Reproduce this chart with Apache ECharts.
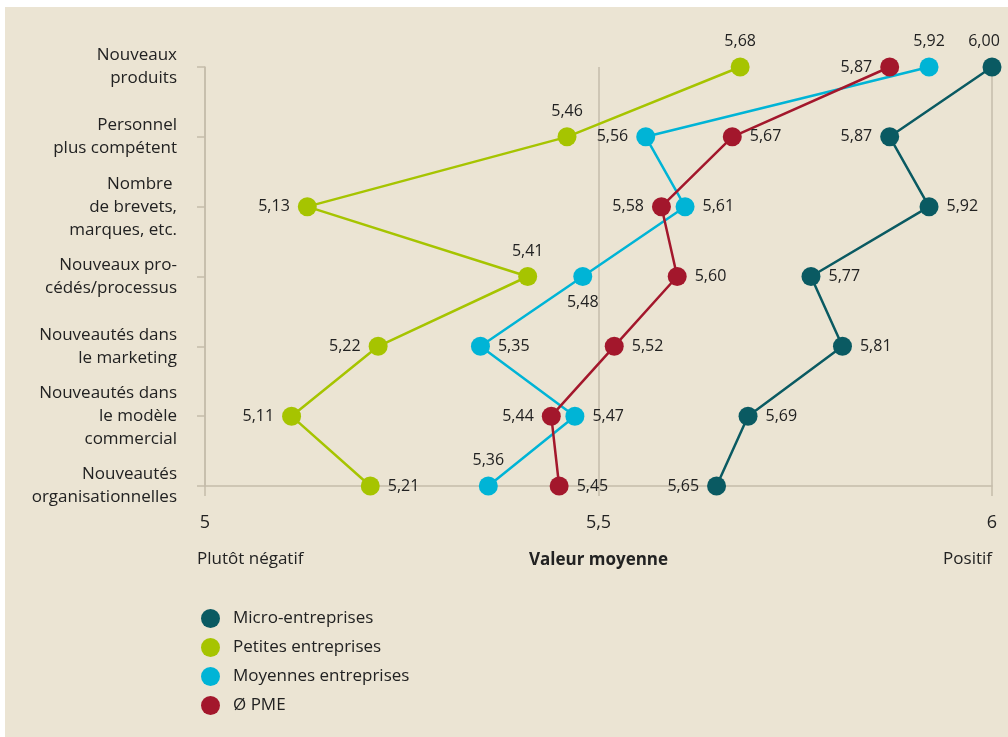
<!DOCTYPE html>
<html>
<head>
<meta charset="utf-8">
<script src="https://cdn.jsdelivr.net/npm/echarts@6/dist/echarts.min.js"></script>
<style>
  html, body { margin: 0; padding: 0; background: #ffffff; }
  #c { position: absolute; left: 5px; top: 7px; width: 1003px; height: 730px; background: #ebe4d3; }
</style>
</head>
<body>
<div id="c"></div>
<script>
// ---- data ----
const categories = [
  'Nouveaux\nproduits',
  'Personnel\nplus compétent',
  'Nombre \nde brevets,\nmarques, etc.',
  'Nouveaux pro-\ncédés/processus',
  'Nouveautés dans\nle marketing',
  'Nouveautés dans\nle modèle\ncommercial',
  'Nouveautés\norganisationnelles'
];
const seriesNames = ['Micro-entreprises', 'Petites entreprises', 'Moyennes entreprises', 'Ø PME'];
const microValues    = [6.00, 5.87, 5.92, 5.77, 5.81, 5.69, 5.65];
const petitesValues  = [5.68, 5.46, 5.13, 5.41, 5.22, 5.11, 5.21];
const moyennesValues = [5.92, 5.56, 5.61, 5.48, 5.35, 5.47, 5.36];
const pmeValues      = [5.87, 5.67, 5.58, 5.60, 5.52, 5.44, 5.45];
const xTickValues = [5, 5.5, 6];
const scaleLabels = ['Plutôt négatif', 'Valeur moyenne', 'Positif'];

// ---- styles (label placement per point) ----
const microLabelPos    = ['top', 'left', 'right', 'right', 'right', 'right', 'left'];
const petitesLabelPos  = ['top', 'top', 'left', 'top', 'left', 'left', 'right'];
const moyennesLabelPos = ['top', 'left', 'right', 'bottom', 'right', 'right', 'top'];
const pmeLabelPos      = ['left', 'right', 'left', 'right', 'right', 'left', 'right'];
const microLabelShift  = [[-8, 0], null, null, null, null, null, null];
const colors = ['#0a5a62', '#a6c400', '#00b4d6', '#a3172c'];

const FONT = '"Open Sans", "Noto Sans", sans-serif';
const TEXT = '#222222';
const AXIS = '#c5bcab';
const fmt = v => v.toFixed(2).replace('.', ',');

function makeSeries(name, values, positions, color, shifts) {
  return {
    name: name,
    type: 'line',
    data: values.map((v, i) => {
      const lab = { position: positions[i] };
      if (shifts && shifts[i]) lab.offset = shifts[i];
      return { value: v, label: lab };
    }),
    symbol: 'circle',
    symbolSize: 19,
    lineStyle: { width: 2.5, color: color },
    itemStyle: { color: color },
    label: {
      show: true,
      distance: 8,
      color: TEXT,
      fontFamily: FONT,
      fontSize: 16,
      formatter: p => fmt(typeof p.value === 'number' ? p.value : p.data.value)
    },
    emphasis: { disabled: true },
    animation: false
  };
}

const chart = echarts.init(document.getElementById('c'), null, { renderer: 'canvas' });
chart.setOption({
  backgroundColor: '#ebe4d3',
  animation: false,
  textStyle: { fontFamily: FONT },
  grid: { left: 200, right: 16, top: 60, bottom: 251, containLabel: false },
  xAxis: {
    type: 'value',
    min: 5, max: 6, interval: 0.5,
    name: scaleLabels[1],
    nameLocation: 'middle',
    nameGap: 66,
    nameTextStyle: { fontFamily: FONT, fontSize: 17, fontWeight: 'bold', color: TEXT },
    axisLine: { show: true, lineStyle: { color: AXIS, width: 1.5 } },
    axisTick: { show: true, length: 10, lineStyle: { color: AXIS, width: 1.5 } },
    splitLine: { show: true, lineStyle: { color: AXIS, width: 1.5 } },
    axisLabel: {
      margin: 28,
      color: TEXT,
      fontFamily: FONT,
      fontSize: 18,
      customValues: xTickValues,
      formatter: v => String(v).replace('.', ',')
    }
  },
  yAxis: {
    type: 'category',
    data: categories,
    inverse: true,
    boundaryGap: false,
    axisLine: { show: true, lineStyle: { color: AXIS, width: 1.5 } },
    axisTick: { show: true, length: 8, lineStyle: { color: AXIS, width: 1.5 } },
    splitLine: { show: false },
    axisLabel: {
      margin: 28,
      color: TEXT,
      fontFamily: FONT,
      fontSize: 17,
      lineHeight: 23,
      align: 'right'
    }
  },
  legend: {
    orient: 'vertical',
    left: 191,
    top: 597,
    icon: 'circle',
    itemWidth: 19,
    itemHeight: 19,
    itemGap: 10,
    data: seriesNames,
    textStyle: { fontFamily: FONT, fontSize: 17, color: TEXT, padding: [0, 0, 0, 8] }
  },
  graphic: [
    { type: 'text', left: 192, top: 544, style: { text: scaleLabels[0], font: '17px ' + FONT, fill: TEXT } },
    { type: 'text', right: 16, top: 544, style: { text: scaleLabels[2], font: '17px ' + FONT, fill: TEXT } }
  ],
  series: [
    makeSeries(seriesNames[0], microValues, microLabelPos, colors[0], microLabelShift),
    makeSeries(seriesNames[1], petitesValues, petitesLabelPos, colors[1]),
    makeSeries(seriesNames[2], moyennesValues, moyennesLabelPos, colors[2]),
    makeSeries(seriesNames[3], pmeValues, pmeLabelPos, colors[3])
  ]
});
</script>
</body>
</html>
